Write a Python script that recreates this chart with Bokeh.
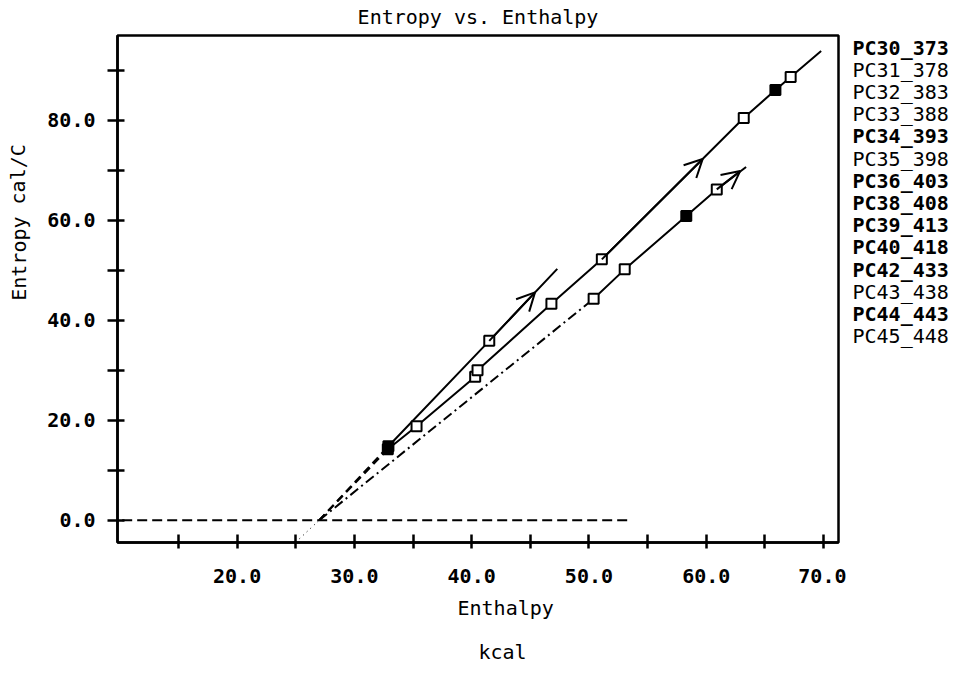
from bokeh.plotting import figure
from bokeh.layouts import row
from bokeh.models import Range1d, FixedTicker, Arrow, OpenHead, Title
from bokeh.core.properties import value
from bokeh.embed import file_html
from bokeh.resources import INLINE

# ---------------- data ----------------
title_text = "Entropy vs. Enthalpy"
x_title = "Enthalpy"
x_unit = "kcal"
y_title = "Entropy cal/C"

x_ticks = [15, 20, 25, 30, 35, 40, 45, 50, 55, 60, 65, 70]
x_labelled = [20, 30, 40, 50, 60, 70]
y_ticks = [0, 10, 20, 30, 40, 50, 60, 70, 80, 90]
y_labelled = [0, 20, 40, 60, 80]

# series A (short, steepest)
a_x = [32.9, 41.5]
a_y = [14.8, 35.9]
a_filled = [True, False]
a_end = (47.3, 50.3)
a_arrow = (45.4, 45.6)

# series B (long middle line)
b_x = [32.85, 35.3, 40.3, 40.5, 46.8, 51.1, 63.2, 65.9, 67.2]
b_y = [14.2, 18.8, 28.7, 30.0, 43.3, 52.2, 80.5, 86.1, 88.7]
b_filled = [True, False, False, False, False, False, False, True, False]
b_end = (69.8, 93.9)
b_arrow = (59.7, 72.3)

# series C (lower line)
c_x = [50.4, 53.05, 58.3, 60.9]
c_y = [44.3, 50.2, 60.9, 66.2]
c_filled = [False, False, True, False]
c_end = (63.4, 70.7)
c_arrow = (62.9, 69.9)

# common intercept of the extrapolated lines, zero line, dotted tail
intercept = (27.0, 0.0)
zero_line_x = [10.2, 53.4]
dotted_start = (25.0, -4.4)

legend_names = ["PC30_373", "PC31_378", "PC32_383", "PC33_388", "PC34_393",
                "PC35_398", "PC36_403", "PC38_408", "PC39_413", "PC40_418",
                "PC42_433", "PC43_438", "PC44_443", "PC45_448"]
legend_bold = [True, False, False, False, True, False, True, True, True,
               True, True, False, True, False]

# ---------------- layout sizes (pixels) ----------------
H = 675
LEFT_W, MAIN_W, RIGHT_W = 38, 808, 103
FRAME_TOP, FRAME_BOTTOM = 35, 542
FONT = "DejaVu Sans Mono"
FS = "20px"

# ---------------- main figure ----------------
p = figure(width=MAIN_W, height=H, output_backend="svg", toolbar_location=None,
           x_range=Range1d(9.8, 71.28), y_range=Range1d(-4.46, 97.0),
           min_border_left=79, min_border_right=8,
           min_border_top=FRAME_TOP, min_border_bottom=H - FRAME_BOTTOM,
           title=None)
p.background_fill_color = "white"
p.border_fill_color = "white"
p.grid.visible = False
p.outline_line_color = "black"
p.outline_line_width = 2.5

p.add_layout(Title(text=title_text, align="center", vertical_align="top",
                   standoff=9, text_font=FONT, text_font_size=FS,
                   text_font_style="normal", text_color="black"), "above")


def fmt_overrides(ticks, labelled):
    return {t: (f"{t:.1f}" if t in labelled else "") for t in ticks}


xa = p.xaxis[0]
xa.ticker = FixedTicker(ticks=x_ticks)
xa.major_label_overrides = fmt_overrides(x_ticks, x_labelled)
ya = p.yaxis[0]
ya.ticker = FixedTicker(ticks=y_ticks)
ya.major_label_overrides = fmt_overrides(y_ticks, y_labelled)

for ax in (xa, ya):
    ax.axis_line_width = 2.5
    ax.axis_line_color = "black"
    ax.major_tick_line_width = 2.5
    ax.major_tick_line_color = "black"
    ax.minor_tick_line_color = None
    ax.major_label_text_font = FONT
    ax.major_label_text_font_style = "bold"
    ax.major_label_text_font_size = FS
    ax.major_label_text_color = "black"
xa.major_tick_in = 8
xa.major_tick_out = 6
xa.major_label_standoff = 20
ya.major_tick_in = 7
ya.major_tick_out = 10
ya.major_label_standoff = 12

# axis name and unit under the x axis
p.add_layout(Title(text=x_title, align="left", offset=340, vertical_align="top",
                   standoff=20, text_font=FONT, text_font_size=FS,
                   text_font_style="normal", text_color="black"), "below")
p.add_layout(Title(text=x_unit, align="left", offset=361, vertical_align="top",
                   standoff=17, text_font=FONT, text_font_size=FS,
                   text_font_style="normal", text_color="black"), "below")

# zero reference line and extrapolations
p.line(zero_line_x, [intercept[1], intercept[1]], line_color="black",
       line_width=2, line_dash="10 5")
p.line([dotted_start[0], intercept[0]], [dotted_start[1], intercept[1]],
       line_color="black", line_width=1, line_dash="1 4")
p.line([intercept[0], a_x[0]], [intercept[1], a_y[0]], line_color="black",
       line_width=2, line_dash="8 5")
p.line([intercept[0], b_x[0]], [intercept[1], b_y[0]], line_color="black",
       line_width=2, line_dash="8 5")
p.line([intercept[0], c_x[0]], [intercept[1], c_y[0]], line_color="black",
       line_width=2, line_dash="10 4 2 4")

series = [(a_x, a_y, a_filled, a_end, a_arrow),
          (b_x, b_y, b_filled, b_end, b_arrow),
          (c_x, c_y, c_filled, c_end, c_arrow)]
for xs, ys, filled, end, arrow in series:
    p.line(xs + [end[0]], ys + [end[1]], line_color="black", line_width=2)
    p.scatter(xs, ys, marker="square", size=10, line_color="black",
              line_width=2, fill_color=["black" if f else "white" for f in filled])
    prev = max(i for i in range(len(xs)) if xs[i] < arrow[0])
    p.add_layout(Arrow(end=OpenHead(size=18, line_width=2, line_color="black"),
                       x_start=xs[prev], y_start=ys[prev],
                       x_end=arrow[0], y_end=arrow[1],
                       line_width=2, line_color="black"))


# ------- side panels for texts: frames align with the main frame,
# ------- so their y range is expressed in page pixels (downward)
def text_panel(w):
    f = figure(width=w, height=H, output_backend="svg", toolbar_location=None,
               x_range=Range1d(0, w), y_range=Range1d(FRAME_BOTTOM, FRAME_TOP),
               x_axis_location=None, y_axis_location=None,
               min_border_left=0, min_border_right=0,
               min_border_top=FRAME_TOP, min_border_bottom=H - FRAME_BOTTOM,
               title=None)
    f.outline_line_color = None
    f.grid.visible = False
    f.background_fill_color = "white"
    f.border_fill_color = "white"
    return f


left = text_panel(LEFT_W)
left.text(x=[18], y=[222], text=[y_title], angle=1.5708,
          text_font=value(FONT), text_font_size=FS,
          text_align="center", text_baseline="middle", text_color="black")

right = text_panel(RIGHT_W)
for bold in (True, False):
    idx = [i for i, b in enumerate(legend_bold) if b == bold]
    right.text(x=[6] * len(idx), y=[47 + 22.2 * i for i in idx],
               text=[legend_names[i] for i in idx],
               text_font=value(FONT), text_font_size=FS,
               text_font_style="bold" if bold else "normal",
               text_align="left", text_baseline="middle", text_color="black")

layout = row(left, p, right)
open("out.html", "w").write(file_html(layout, INLINE))
